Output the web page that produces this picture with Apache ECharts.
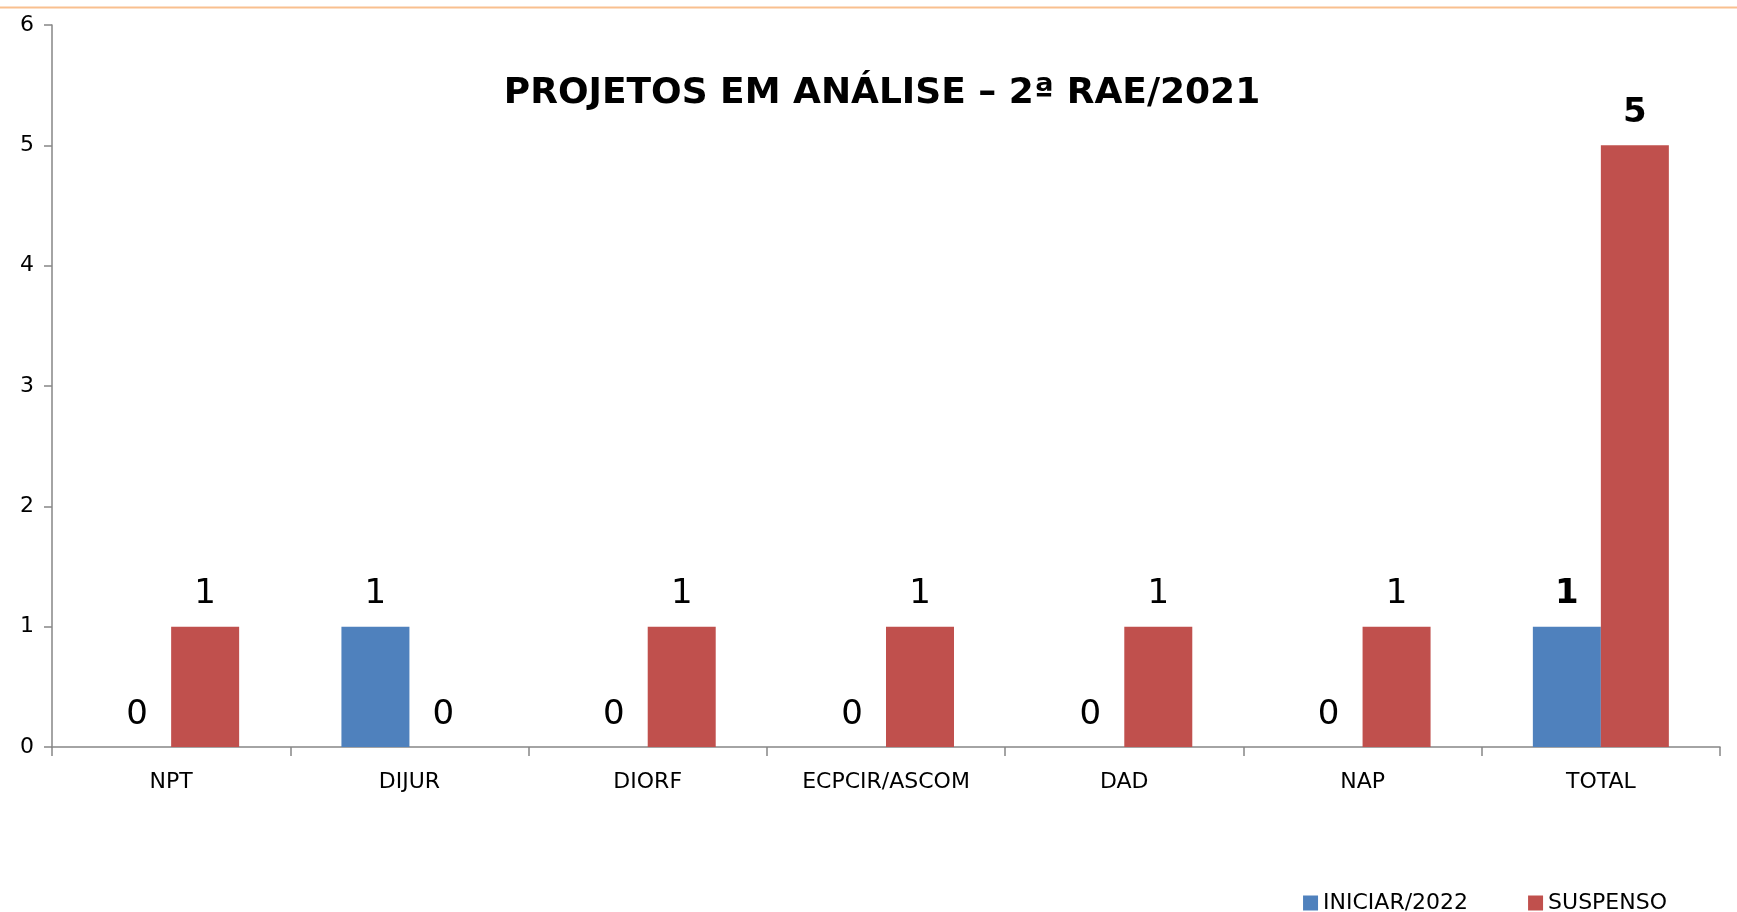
<!DOCTYPE html>
<html>
<head>
<meta charset="utf-8">
<style>
  html, body { margin: 0; padding: 0; background: #fff; }
  #main { width: 1737px; height: 912px; }
</style>
<script src="https://cdn.jsdelivr.net/npm/echarts@6/dist/echarts.min.js"></script>
</head>
<body>
<div id="main"></div>
<script>
// data
var categories = ['NPT', 'DIJUR', 'DIORF', 'ECPCIR/ASCOM', 'DAD', 'NAP', 'TOTAL'];
var iniciar = [0, 1, 0, 0, 0, 0, 1];
var suspenso = [1, 0, 1, 1, 1, 1, 5];
var yTicks = [0, 1, 2, 3, 4, 5, 6];

var myChart = echarts.init(document.getElementById('main'));

// TOTAL gets a bold label
function withBoldTotal(values) {
    return values.map(function (v, i) {
        if (categories[i] === 'TOTAL') {
            return { value: v, label: { fontWeight: 'bold' } };
        }
        return v;
    });
}

var FONT = 'DejaVu Sans';

var barLabel = {
    show: true,
    position: 'top',
    distance: 15,
    fontFamily: FONT,
    fontSize: 34,
    color: '#000'
};

var option = {
    animation: false,
    textStyle: { fontFamily: FONT },
    title: {
        text: 'PROJETOS EM ANÁLISE – 2ª RAE/2021',
        left: 877,
        textAlign: 'center',
        top: 71,
        textStyle: { fontFamily: FONT, fontWeight: 'bold', fontSize: 36, color: '#000' }
    },
    legend: {
        data: ['INICIAR/2022', 'SUSPENSO'],
        right: 65,
        top: 887,
        icon: 'rect',
        itemWidth: 15,
        itemHeight: 15,
        itemGap: 60,
        textStyle: { fontFamily: FONT, fontSize: 22, color: '#000', padding: [0, 0, 0, 0] }
    },
    grid: { left: 52, right: 17, top: 25, bottom: 165 },
    xAxis: {
        type: 'category',
        data: categories,
        axisLine: { lineStyle: { color: '#868686', width: 1.5 } },
        axisTick: { show: true, length: 9, lineStyle: { color: '#868686', width: 1.5 } },
        axisLabel: { fontFamily: FONT, fontSize: 22, color: '#000', margin: 24 }
    },
    yAxis: {
        type: 'value',
        min: yTicks[0],
        max: yTicks[yTicks.length - 1],
        interval: 1,
        axisLine: { show: true, lineStyle: { color: '#868686', width: 1.5 } },
        axisTick: { show: true, length: 8, lineStyle: { color: '#868686', width: 1.5 } },
        axisLabel: { fontFamily: FONT, fontSize: 22, color: '#000', margin: 18 },
        splitLine: { show: false }
    },
    series: [{
        name: 'INICIAR/2022',
        type: 'bar',
        data: withBoldTotal(iniciar),
        barWidth: 68,
        barGap: '0%',
        itemStyle: { color: '#4f81bd' },
        label: barLabel
    }, {
        name: 'SUSPENSO',
        type: 'bar',
        data: withBoldTotal(suspenso),
        barWidth: 68,
        itemStyle: { color: '#c0504d' },
        label: barLabel
    }],
    graphic: [{
        type: 'line',
        shape: { x1: 0, y1: 7.5, x2: 1737, y2: 7.5 },
        style: { stroke: '#f9c08f', lineWidth: 2 }
    }]
};

myChart.setOption(option);
</script>
</body>
</html>
